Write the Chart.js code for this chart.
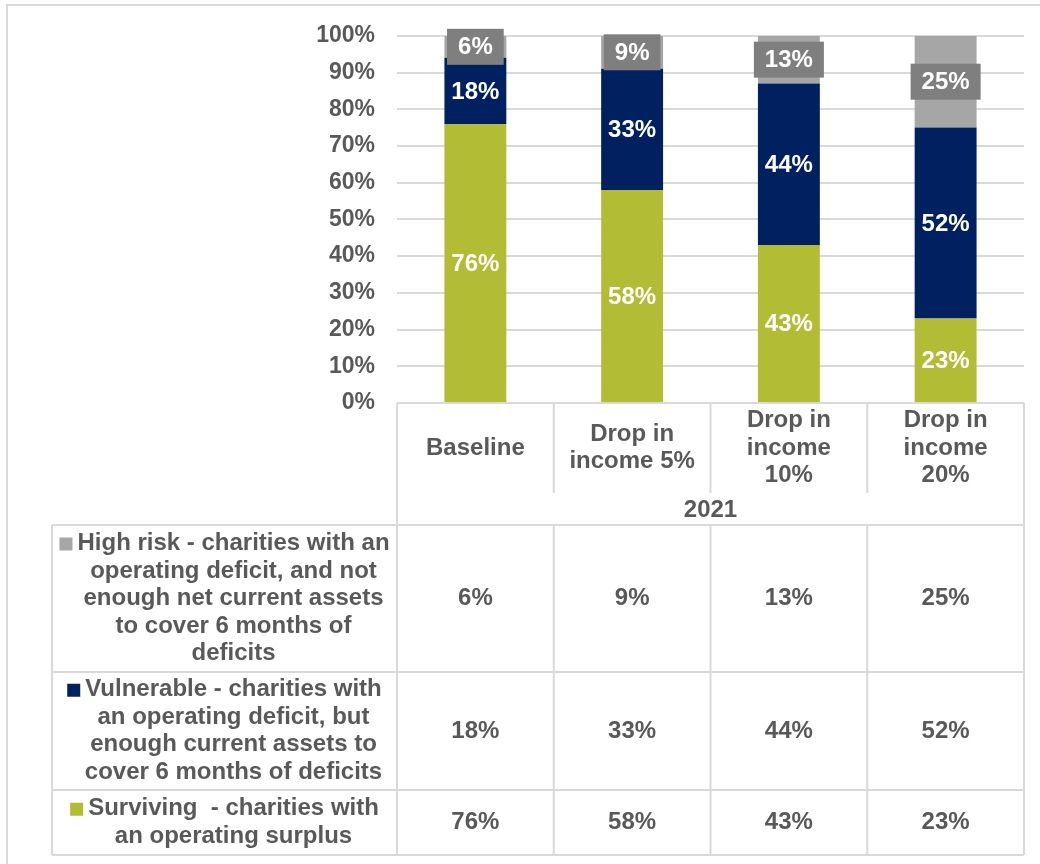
<!DOCTYPE html>
<html>
<head>
<meta charset="utf-8">
<script src="https://cdn.jsdelivr.net/npm/chart.js@4"></script>
<style>
  body { margin: 0; background: #fff; }
</style>
</head>
<body>
<canvas id="myChart" width="1040" height="864"></canvas>
<script>
// --- data ---
let categories = [["Baseline"], ["Drop in", "income 5%"], ["Drop in", "income", "10%"], ["Drop in", "income", "20%"]];
let groupLabel = "2021";
let surviving = [76, 58, 43, 23];
let vulnerable = [18, 33, 44, 52];
let highRisk = [6, 9, 13, 25];
let yTicks = [0, 10, 20, 30, 40, 50, 60, 70, 80, 90, 100];

let legendText = {
  high: ["High risk - charities with an", "operating deficit, and not", "enough net current assets", "to cover 6 months of", "deficits"],
  vuln: ["Vulnerable - charities with", "an operating deficit, but", "enough current assets to", "cover 6 months of deficits"],
  surv: ["Surviving  - charities with", "an operating surplus"]
};

const FONT = '"Liberation Sans", Arial, sans-serif';
const TXT = "#595959";
const LINE = "#d9d9d9";

// draws value labels on the bars
const barLabels = {
  id: "barLabels",
  afterDatasetsDraw(chart) {
    const ctx = chart.ctx;
    ctx.save();
    ctx.font = "bold 24px " + FONT;
    ctx.textAlign = "center";
    ctx.textBaseline = "middle";
    chart.data.datasets.forEach((ds, i) => {
      chart.getDatasetMeta(i).data.forEach((bar, j) => {
        let cy = (bar.y + bar.base) / 2;
        let txt = ds.data[j] + "%";
        if (ds.boxed) {
          let w = ctx.measureText(txt).width + 22;
          ctx.fillStyle = "#7f7f7f";
          ctx.fillRect(bar.x - w / 2, cy - 18, w, 36);
        }
        ctx.fillStyle = "#fff";
        ctx.fillText(txt, bar.x, cy + 1);
      });
    });
    ctx.restore();
  }
};

// draws the data table + outer frame
const dataTable = {
  id: "dataTable",
  beforeDraw(chart) {
    const ctx = chart.ctx;
    ctx.save();
    ctx.strokeStyle = LINE;
    ctx.lineWidth = 2;
    ctx.beginPath();
    ctx.moveTo(7, 870); ctx.lineTo(7, 5); ctx.lineTo(1045, 5);
    ctx.stroke();
    ctx.restore();
  },
  afterDraw(chart) {
    const ctx = chart.ctx;
    const area = chart.chartArea;
    const xs = chart.scales.x;
    const n = categories.length;
    const colW = (area.right - area.left) / n;
    const top = area.bottom;
    const sepBottom = top + 90;
    const yearBottom = top + 122;
    const rowBottoms = [top + 269, top + 387, top + 452];
    const legLeft = 52;
    ctx.save();
    ctx.strokeStyle = LINE;
    ctx.lineWidth = 2;
    ctx.beginPath();
    // top of header
    ctx.moveTo(area.left, top); ctx.lineTo(area.right, top);
    ctx.moveTo(area.left, top); ctx.lineTo(area.left, rowBottoms[2]);
    ctx.moveTo(area.right, top); ctx.lineTo(area.right, rowBottoms[2]);
    for (let i = 1; i < n; i++) {
      let x = area.left + colW * i;
      ctx.moveTo(x, top); ctx.lineTo(x, sepBottom);
      ctx.moveTo(x, yearBottom); ctx.lineTo(x, rowBottoms[2]);
    }
    ctx.moveTo(legLeft, yearBottom); ctx.lineTo(area.right, yearBottom);
    rowBottoms.forEach(y => { ctx.moveTo(legLeft, y); ctx.lineTo(area.right, y); });
    ctx.moveTo(legLeft, yearBottom); ctx.lineTo(legLeft, rowBottoms[2]);
    ctx.stroke();

    ctx.fillStyle = TXT;
    ctx.font = "bold 24px " + FONT;
    ctx.textAlign = "center";
    ctx.textBaseline = "middle";
    const lh = 27.5;
    // category headers
    categories.forEach((lines, i) => {
      let cx = xs.getPixelForValue(i);
      let cy = (top + sepBottom) / 2;
      lines.forEach((l, k) => {
        ctx.fillText(l, cx, cy + (k - (lines.length - 1) / 2) * lh);
      });
    });
    ctx.fillText(groupLabel, (area.left + area.right) / 2, (sepBottom + yearBottom) / 2 + 1);

    // legend rows + values
    const rows = [
      { lines: legendText.high, color: "#a6a6a6", vals: highRisk },
      { lines: legendText.vuln, color: "#002060", vals: vulnerable },
      { lines: legendText.surv, color: "#b3bc35", vals: surviving }
    ];
    let prev = yearBottom;
    rows.forEach((r, ri) => {
      let bot = rowBottoms[ri];
      let cy = (prev + bot) / 2;
      let tcx = (70 + area.left) / 2;
      r.lines.forEach((l, k) => {
        let y = cy + (k - (r.lines.length - 1) / 2) * lh;
        ctx.fillStyle = TXT;
        ctx.fillText(l, tcx, y);
        if (k === 0) {
          let w = ctx.measureText(l).width;
          ctx.fillStyle = r.color;
          ctx.fillRect(tcx - w / 2 - 18, y - 6, 13, 13);
        }
      });
      ctx.fillStyle = TXT;
      r.vals.forEach((v, j) => {
        ctx.fillText(v + "%", xs.getPixelForValue(j), cy);
      });
      prev = bot;
    });
    ctx.restore();
  }
};

new Chart("myChart", {
  type: "bar",
  data: {
    labels: categories.map(c => c.join(" ")),
    datasets: [
      { label: "Surviving", data: surviving, backgroundColor: "#b3bc35" },
      { label: "Vulnerable", data: vulnerable, backgroundColor: "#002060" },
      { label: "High risk", data: highRisk, backgroundColor: "#a6a6a6", boxed: true }
    ]
  },
  options: {
    responsive: false,
    animation: false,
    layout: { padding: { top: 35, right: 16, bottom: 461, left: 0 } },
    datasets: { bar: { categoryPercentage: 1, barPercentage: 0.395 } },
    plugins: { legend: { display: false }, tooltip: { enabled: false } },
    scales: {
      x: { stacked: true, display: false },
      y: {
        stacked: true,
        min: 0, max: 100,
        afterFit(axis) { axis.width = 397; },
        afterBuildTicks(axis) { axis.ticks = yTicks.map(v => ({ value: v })); },
        border: { display: false },
        grid: { color: LINE, lineWidth: 2, drawTicks: false },
        ticks: {
          padding: 22,
          color: TXT,
          font: { family: FONT, size: 23, weight: "bold" },
          callback: v => v + "%"
        }
      }
    }
  },
  plugins: [barLabels, dataTable]
});
</script>
</body>
</html>
